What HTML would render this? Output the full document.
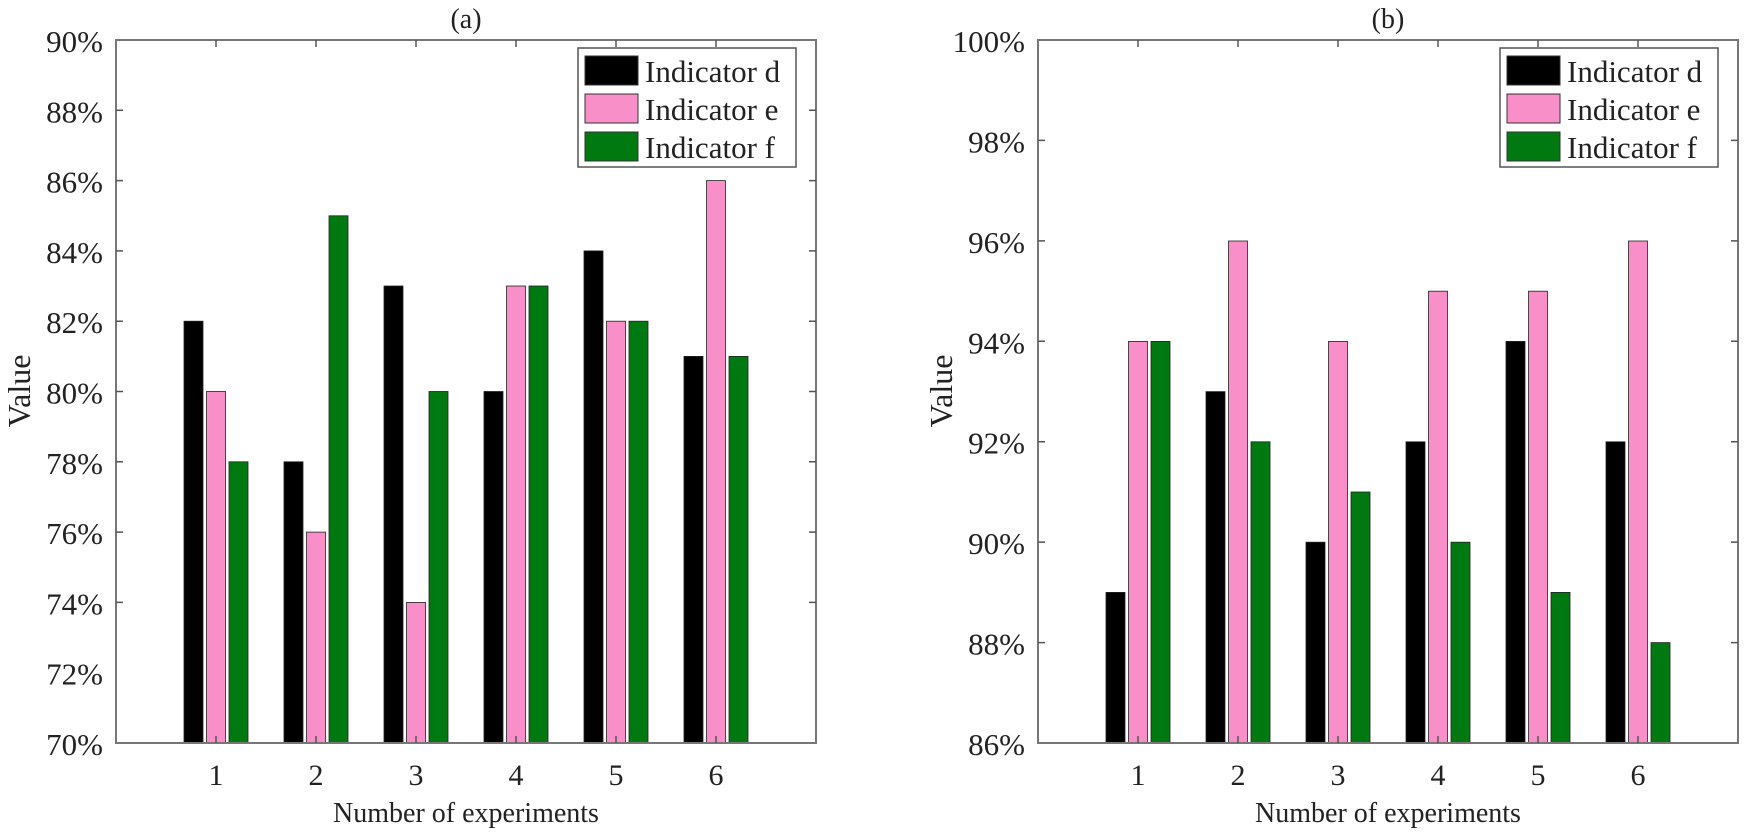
<!DOCTYPE html>
<html><head><style>
html,body{margin:0;padding:0;background:#fff;}
svg{display:block;font-family:"Liberation Serif",serif;}
</style></head><body>
<svg width="1750" height="834" viewBox="0 0 1750 834" xmlns="http://www.w3.org/2000/svg">
<g stroke="#222" stroke-width="0.8">
<g fill="#000"><rect x="184" y="321.2" width="19" height="421.8"/><rect x="284" y="461.8" width="19" height="281.2"/><rect x="384" y="286" width="19" height="457"/><rect x="484" y="391.5" width="19" height="351.5"/><rect x="584" y="250.9" width="19" height="492.1"/><rect x="684" y="356.4" width="19" height="386.6"/></g>
<g fill="#f98fc8"><rect x="206.5" y="391.5" width="19" height="351.5"/><rect x="306.5" y="532.1" width="19" height="210.9"/><rect x="406.5" y="602.4" width="19" height="140.6"/><rect x="506.5" y="286" width="19" height="457"/><rect x="606.5" y="321.2" width="19" height="421.8"/><rect x="706.5" y="180.6" width="19" height="562.4"/></g>
<g fill="#007a10"><rect x="229" y="461.8" width="19" height="281.2"/><rect x="329" y="215.8" width="19" height="527.2"/><rect x="429" y="391.5" width="19" height="351.5"/><rect x="529" y="286" width="19" height="457"/><rect x="629" y="321.2" width="19" height="421.8"/><rect x="729" y="356.4" width="19" height="386.6"/></g>
<g fill="#000"><rect x="1106" y="592.4" width="19" height="150.6"/><rect x="1206" y="391.6" width="19" height="351.4"/><rect x="1306" y="542.2" width="19" height="200.8"/><rect x="1406" y="441.8" width="19" height="301.2"/><rect x="1506" y="341.4" width="19" height="401.6"/><rect x="1606" y="441.8" width="19" height="301.2"/></g>
<g fill="#f98fc8"><rect x="1128.5" y="341.4" width="19" height="401.6"/><rect x="1228.5" y="241" width="19" height="502"/><rect x="1328.5" y="341.4" width="19" height="401.6"/><rect x="1428.5" y="291.2" width="19" height="451.8"/><rect x="1528.5" y="291.2" width="19" height="451.8"/><rect x="1628.5" y="241" width="19" height="502"/></g>
<g fill="#007a10"><rect x="1151" y="341.4" width="19" height="401.6"/><rect x="1251" y="441.8" width="19" height="301.2"/><rect x="1351" y="492" width="19" height="251"/><rect x="1451" y="542.2" width="19" height="200.8"/><rect x="1551" y="592.4" width="19" height="150.6"/><rect x="1651" y="642.6" width="19" height="100.4"/></g>
</g>
<g fill="none" stroke="#777" stroke-width="2">
<rect x="116" y="40" width="700" height="703"/>
<rect x="1038" y="40" width="700" height="703"/>
</g>
<g stroke="#555" stroke-width="1.5">
<path d="M216 743v-7M316 743v-7M416 743v-7M516 743v-7M616 743v-7M716 743v-7M216 40v7M316 40v7M416 40v7M516 40v7M616 40v7M716 40v7"/>
<path d="M116 110.3h7M116 180.6h7M116 250.9h7M116 321.2h7M116 391.5h7M116 461.8h7M116 532.1h7M116 602.4h7M816 110.3h-7M816 180.6h-7M816 250.9h-7M816 321.2h-7M816 391.5h-7M816 461.8h-7M816 532.1h-7M816 602.4h-7"/>
<path d="M1138 743v-7M1238 743v-7M1338 743v-7M1438 743v-7M1538 743v-7M1638 743v-7M1138 40v7M1238 40v7M1338 40v7M1438 40v7M1538 40v7M1638 40v7"/>
<path d="M1038 140.4h7M1038 240.9h7M1038 341.3h7M1038 441.7h7M1038 542.1h7M1038 642.6h7M1738 140.4h-7M1738 240.9h-7M1738 341.3h-7M1738 441.7h-7M1738 542.1h-7M1738 642.6h-7"/>
</g>
<g font-size="31" fill="#222" text-anchor="end">
<text x="103" y="52">90%</text><text x="103" y="122.3">88%</text><text x="103" y="192.6">86%</text><text x="103" y="262.9">84%</text><text x="103" y="333.2">82%</text><text x="103" y="403.5">80%</text><text x="103" y="473.8">78%</text><text x="103" y="544.1">76%</text><text x="103" y="614.4">74%</text><text x="103" y="684.7">72%</text><text x="103" y="755">70%</text>
<text x="1025" y="52">100%</text><text x="1025" y="152.4">98%</text><text x="1025" y="252.9">96%</text><text x="1025" y="353.3">94%</text><text x="1025" y="453.7">92%</text><text x="1025" y="554.1">90%</text><text x="1025" y="654.6">88%</text><text x="1025" y="755">86%</text>
</g>
<g font-size="30" fill="#222" text-anchor="middle">
<text x="216" y="785">1</text><text x="316" y="785">2</text><text x="416" y="785">3</text><text x="516" y="785">4</text><text x="616" y="785">5</text><text x="716" y="785">6</text>
<text x="1138" y="785">1</text><text x="1238" y="785">2</text><text x="1338" y="785">3</text><text x="1438" y="785">4</text><text x="1538" y="785">5</text><text x="1638" y="785">6</text>
<text x="466" y="822" font-size="28">Number of experiments</text>
<text x="1388" y="822" font-size="28">Number of experiments</text>
<text x="466" y="28" font-size="28">(a)</text>
<text x="1388" y="28" font-size="28">(b)</text>
<text transform="translate(30,391) rotate(-90)" font-size="32">Value</text>
<text transform="translate(952,391) rotate(-90)" font-size="32">Value</text>
</g>
<g>
<rect x="578" y="48" width="218" height="119" fill="#fff" stroke="#555" stroke-width="1.5"/>
<rect x="585" y="56" width="53" height="29" fill="#000" stroke="#333"/>
<rect x="585" y="94" width="53" height="29" fill="#f98fc8" stroke="#333"/>
<rect x="585" y="132" width="53" height="29" fill="#007a10" stroke="#333"/>
<g font-size="31" fill="#222"><text x="645" y="82">Indicator d</text><text x="645" y="120">Indicator e</text><text x="645" y="158">Indicator f</text></g>
<rect x="1500" y="48" width="218" height="119" fill="#fff" stroke="#555" stroke-width="1.5"/>
<rect x="1507" y="56" width="53" height="29" fill="#000" stroke="#333"/>
<rect x="1507" y="94" width="53" height="29" fill="#f98fc8" stroke="#333"/>
<rect x="1507" y="132" width="53" height="29" fill="#007a10" stroke="#333"/>
<g font-size="31" fill="#222"><text x="1567" y="82">Indicator d</text><text x="1567" y="120">Indicator e</text><text x="1567" y="158">Indicator f</text></g>
</g>
</svg>
</body></html>
